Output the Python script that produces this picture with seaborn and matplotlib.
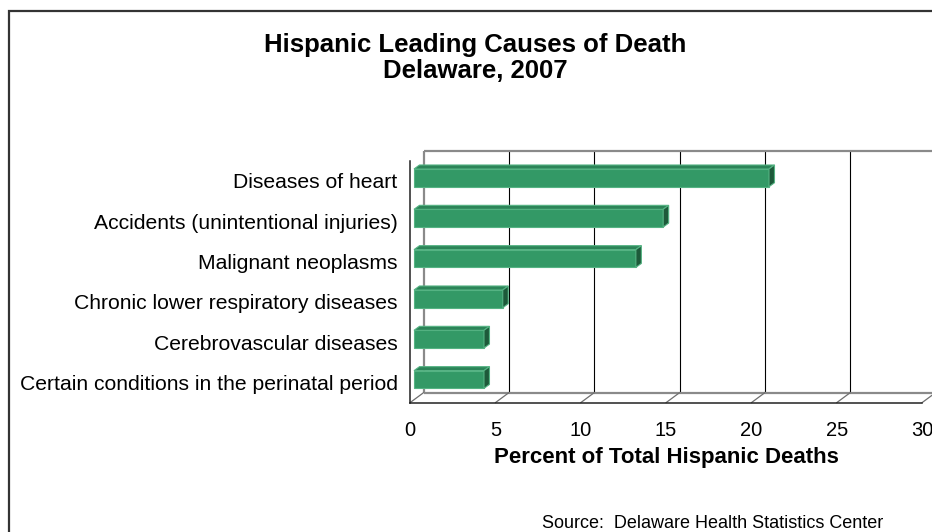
import numpy as np
import matplotlib
matplotlib.use("Agg")
import matplotlib.pyplot as plt
from matplotlib.patches import Polygon, Rectangle
import seaborn as sns

# Leading causes of death among Hispanic residents, Delaware 2007
categories = [
    "Diseases of heart",
    "Accidents (unintentional injuries)",
    "Malignant neoplasms",
    "Chronic lower respiratory diseases",
    "Cerebrovascular diseases",
    "Certain conditions in the perinatal period",
]
percent_of_deaths = [20.8, 14.6, 13.0, 5.2, 4.1, 4.1]
x_ticks = [0, 5, 10, 15, 20, 25, 30]

title_text = "Hispanic Leading Causes of Death\nDelaware, 2007"
x_label = "Percent of Total Hispanic Deaths"
source_text = "Source:  Delaware Health Statistics Center"

sns.set_style("white")
plt.rcParams["font.family"] = ["Liberation Sans", "DejaVu Sans"]
plt.rcParams["text.color"] = "black"
plt.rcParams["axes.labelcolor"] = "black"
plt.rcParams["xtick.color"] = "black"
plt.rcParams["ytick.color"] = "black"

W, H, DPI = 932, 532, 100
fig = plt.figure(figsize=(W / DPI, H / DPI), dpi=DPI)
fig.patch.set_facecolor("white")

# front plane of the pseudo-3D plot area, in pixels
left_px, right_px, top_px, bottom_px = 410.0, 922.0, 160.7, 402.7
ax = fig.add_axes([left_px / W, 1 - bottom_px / H,
                   (right_px - left_px) / W, (bottom_px - top_px) / H])
ax.set_facecolor("none")

front_green = "#339966"
top_green = "#2c8458"
side_green = "#1d5a3a"
edge_green = "#55b383"

sns.barplot(x=percent_of_deaths, y=categories, orient="h", color=front_green,
            saturation=1, width=0.44, ax=ax, zorder=3,
            edgecolor=edge_green, linewidth=0.8)

xmax = 30
n = len(categories)
ax.set_xlim(0, xmax)
ax.set_ylim(n - 0.5, -0.5)

# pixel -> data conversion for depth offsets
sx = (right_px - left_px) / xmax
sy = (bottom_px - top_px) / n


def depth(dx_px, dy_px):
    # dy_px positive = upward on screen; y axis is inverted
    return dx_px / sx, -dy_px / sy


wall_dx, wall_dy = depth(13.5, 10.0)
bar_dx, bar_dy = depth(4.0, 3.0)
face_dx, face_dy = depth(5.5, 4.0)

# back wall grid lines and outline
grid_kw = dict(color="black", lw=0.8, zorder=1, clip_on=False)
for v in x_ticks[1:]:
    ax.plot([v + wall_dx, v + wall_dx], [n - 0.5 + wall_dy, -0.5 + wall_dy], **grid_kw)
wall_kw = dict(color="#8a8a8a", lw=1.6, zorder=1, clip_on=False, solid_capstyle="butt")
ax.plot([wall_dx, wall_dx], [n - 0.5 + wall_dy, -0.5 + wall_dy], **wall_kw)
ax.plot([wall_dx, xmax + wall_dx], [-0.5 + wall_dy, -0.5 + wall_dy], **wall_kw)
# floor
ax.plot([wall_dx, xmax + wall_dx], [n - 0.5 + wall_dy, n - 0.5 + wall_dy], **wall_kw)
for v in x_ticks:
    ax.plot([v, v + wall_dx], [n - 0.5, n - 0.5 + wall_dy],
            color="#6e6e6e", lw=0.9, zorder=1, clip_on=False)

# give the bars depth: shift into the bar plane, then add top and side faces
for patch in list(ax.patches):
    patch.set_x(patch.get_x() + bar_dx)
    patch.set_y(patch.get_y() + bar_dy)
    x0 = patch.get_x()
    x1 = x0 + patch.get_width()
    y0 = patch.get_y()
    y1 = y0 + patch.get_height()
    top = Polygon([(x0, y0), (x1, y0), (x1 + face_dx, y0 + face_dy),
                   (x0 + face_dx, y0 + face_dy)], closed=True,
                  facecolor=top_green, edgecolor=edge_green, lw=0.8, zorder=3)
    side = Polygon([(x1, y0), (x1 + face_dx, y0 + face_dy),
                    (x1 + face_dx, y1 + face_dy), (x1, y1)], closed=True,
                   facecolor=side_green, edgecolor=edge_green, lw=0.8, zorder=3)
    ax.add_patch(top)
    ax.add_patch(side)

# axes styling
for s in ("top", "right"):
    ax.spines[s].set_visible(False)
for s in ("left", "bottom"):
    ax.spines[s].set_color("#222222")
    ax.spines[s].set_linewidth(1.1)
    ax.spines[s].set_zorder(4)

ax.set_xticks(x_ticks)
ax.set_xticklabels([str(t) for t in x_ticks])
ax.tick_params(axis="x", length=3.8, width=0.9, color="#222222", direction="out",
               pad=9.5, labelsize=14.5, labelcolor="black")
ax.set_yticks(np.arange(n))
ax.set_yticklabels(categories)
ax.set_yticks(np.arange(-0.5, n, 1.0), minor=True)
ax.tick_params(axis="y", which="major", length=0, pad=9, labelsize=15.2,
               labelcolor="black")
ax.tick_params(axis="y", which="minor", length=5.2, width=0.9, color="#222222",
               direction="out")
ax.set_ylabel("")

ax.set_xlabel(x_label, fontsize=16, fontweight="bold", color="black")
ax.xaxis.label.set_va("baseline")
ax.xaxis.set_label_coords(0.5, ((H - 463.3) - (H - bottom_px)) / (bottom_px - top_px))

fig.suptitle(title_text, x=475 / W, y=1 - 33 / H, va="top", ha="center",
             fontsize=18.5, fontweight="bold", linespacing=1.12, color="black")

fig.text(883 / W, 1 - 528 / H, source_text, ha="right", va="baseline",
         fontsize=13, color="black")

# chart area border
fig.add_artist(Rectangle((8.5 / W, -0.2), 1.2, 1.2 - 11 / H,
                         transform=fig.transFigure, fill=False,
                         edgecolor="#333333", lw=1.6))

fig.savefig("out.png", dpi=DPI)
